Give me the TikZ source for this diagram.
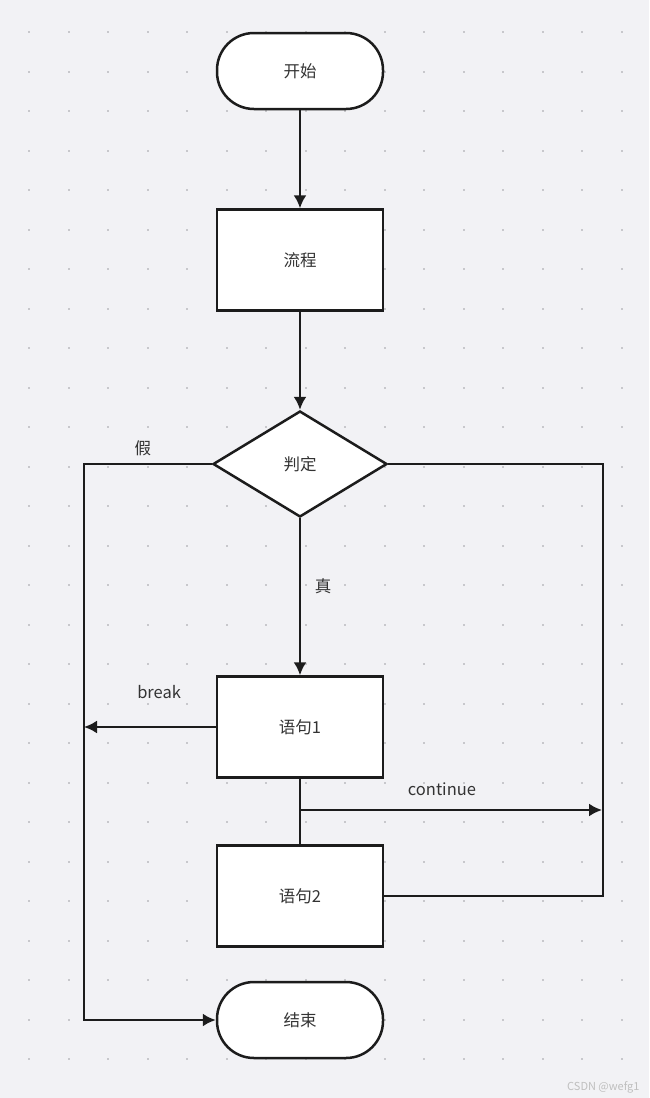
\documentclass[tikz,border=0pt]{standalone}
\usepackage{fontspec}
\setmainfont{Noto Sans CJK SC}
\usetikzlibrary{positioning,arrows.meta,shapes.geometric}
\definecolor{bgcol}{RGB}{242,242,245}
\definecolor{dotcol}{RGB}{200,200,204}
\definecolor{edgecol}{RGB}{28,28,28}
\definecolor{txtcol}{RGB}{51,51,51}
\tikzset{
  flowarrow/.style={-{Latex[length=13pt,width=13pt]}, line width=2.2pt, draw=edgecol},
  flowline/.style={line width=2.2pt, draw=edgecol},
  termbox/.style={draw=edgecol, line width=2.5pt, fill=white, rounded corners=37pt, minimum width=166pt, minimum height=76pt, text=txtcol},
  procbox/.style={draw=edgecol, line width=2.5pt, fill=white, minimum width=166pt, minimum height=101pt, text=txtcol},
  decbox/.style={draw=edgecol, line width=2.5pt, fill=white, diamond, inner sep=0pt, minimum width=174pt, minimum height=106pt, text=txtcol},
  relabel/.style={text=txtcol, inner sep=0pt}
}

\begin{document}
\begin{tikzpicture}[x=1pt, y=-1pt, every node/.style={font=\fontsize{16.5}{19}\selectfont}]
  \fill[bgcol] (0,0) rectangle (649,1098);
  \useasboundingbox (0,0) rectangle (649,1098);
  \foreach \i in {0,...,15}
    \foreach \j in {0,...,26}
      \fill[dotcol] ({28+39.5*\i},{31+39.5*\j}) rectangle ++(2.4,2.4);

  \node[termbox] (start) at (300,71) {开始};
  \node[procbox] (proc) at (300,260) {流程};
  \node[decbox] (judge) at (300,464) {判定};
  \node[procbox] (s1) at (300,727) {语句1};
  \node[procbox] (s2) at (300,896) {语句2};
  \node[termbox] (stop) at (300,1020) {结束};

  \coordinate (lft) at (84,464);
  \coordinate (brk) at (84,727);
  \coordinate (cj) at (300,810);
  \coordinate (cr) at (602,810);
  \coordinate (rgt) at (603,464);

  \draw[flowarrow] (start) -- (proc);
  \draw[flowarrow] (proc) -- (judge);
  \draw[flowarrow] (judge) -- node[relabel, pos=0.43, xshift=23pt]{真} (s1);
  \draw[flowarrow] (judge.west) -- node[relabel, pos=0.54, yshift=16pt]{假} (lft) |- (stop);
  \draw[flowarrow] (s1) -- node[relabel, pos=0.43, yshift=35pt]{break} (brk);
  \draw[flowline] (s1) -- (s2);
  \draw[flowarrow] (cj) -- node[relabel, pos=0.47, yshift=21pt]{continue} (cr);
  \draw[flowline] (judge.east) -- (rgt) |- (s2);

  \node[text=black!25, anchor=east, font=\fontsize{11}{13}\selectfont] (mark) at (643,1087) {CSDN @wefg1};
\end{tikzpicture}
\end{document}
